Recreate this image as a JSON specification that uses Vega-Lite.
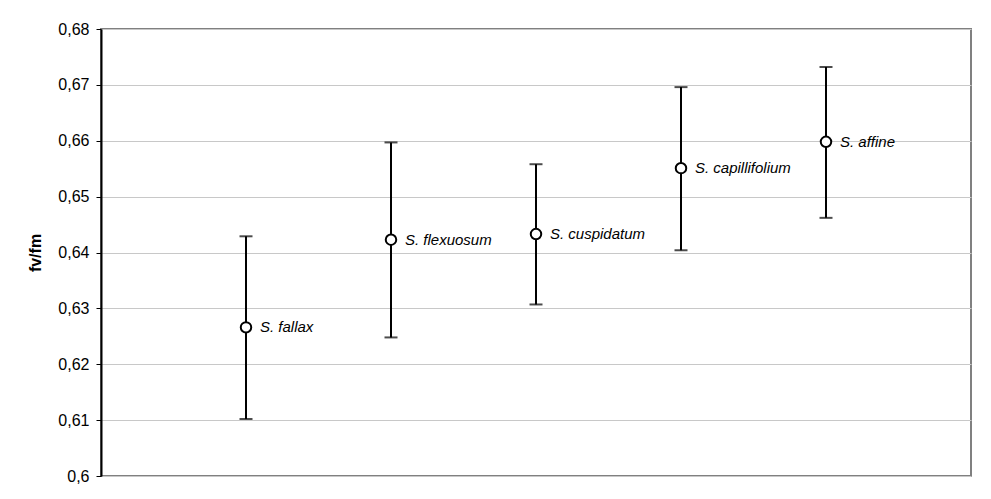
{
  "$schema": "https://vega.github.io/schema/vega-lite/v6.json",
  "width": 870,
  "height": 447,
  "autosize": {"type": "none"},
  "padding": {"left": 101, "top": 29, "right": 20, "bottom": 23},
  "background": "white",
  "config": {
    "font": "Liberation Sans",
    "view": {"stroke": "#808080", "strokeWidth": 2}
  },
  "data": {
    "values": [
      {"pos": 1, "species": "S. fallax", "mean": 0.6266, "low": 0.6102, "high": 0.6429},
      {"pos": 2, "species": "S. flexuosum", "mean": 0.6423, "low": 0.6248, "high": 0.6597},
      {"pos": 3, "species": "S. cuspidatum", "mean": 0.6433, "low": 0.6307, "high": 0.6558},
      {"pos": 4, "species": "S. capillifolium", "mean": 0.6551, "low": 0.6404, "high": 0.6696},
      {"pos": 5, "species": "S. affine", "mean": 0.6598, "low": 0.6462, "high": 0.6732}
    ]
  },
  "encoding": {
    "x": {"field": "pos", "type": "quantitative", "scale": {"domain": [0, 6], "nice": false, "zero": false}, "axis": null}
  },
  "layer": [
    {
      "mark": {"type": "rule", "color": "black", "strokeWidth": 2},
      "encoding": {
        "y": {"field": "low", "type": "quantitative",
          "scale": {"domain": [0.6, 0.68], "nice": false, "zero": false},
          "axis": {
            "values": [0.6, 0.61, 0.62, 0.63, 0.64, 0.65, 0.66, 0.67, 0.68],
            "labelExpr": "replace(format(datum.value, '.2~f'), '.', ',')",
            "labelFontSize": 16, "labelColor": "black", "labelPadding": 7,
            "tickColor": "black", "tickSize": 5, "tickWidth": 1,
            "domainColor": "black", "domainWidth": 2,
            "grid": true, "gridColor": "#c8c8c8", "gridWidth": 1,
            "title": "fv/fm", "titleFontSize": 16, "titleFontWeight": "bold", "titleColor": "black", "titlePadding": 14
          }
        },
        "y2": {"field": "high"}
      }
    },
    {
      "mark": {"type": "tick", "color": "black", "orient": "horizontal", "size": 13, "thickness": 2},
      "encoding": {"y": {"field": "low", "type": "quantitative"}}
    },
    {
      "mark": {"type": "tick", "color": "black", "orient": "horizontal", "size": 13, "thickness": 2},
      "encoding": {"y": {"field": "high", "type": "quantitative"}}
    },
    {
      "mark": {"type": "point", "shape": "circle", "filled": false, "fill": "white", "fillOpacity": 1, "stroke": "black", "strokeWidth": 2, "size": 110, "opacity": 1},
      "encoding": {"y": {"field": "mean", "type": "quantitative"}}
    },
    {
      "mark": {"type": "text", "align": "left", "baseline": "middle", "dx": 14, "fontSize": 15, "fontStyle": "italic", "color": "black"},
      "encoding": {"y": {"field": "mean", "type": "quantitative"}, "text": {"field": "species"}}
    }
  ]
}
